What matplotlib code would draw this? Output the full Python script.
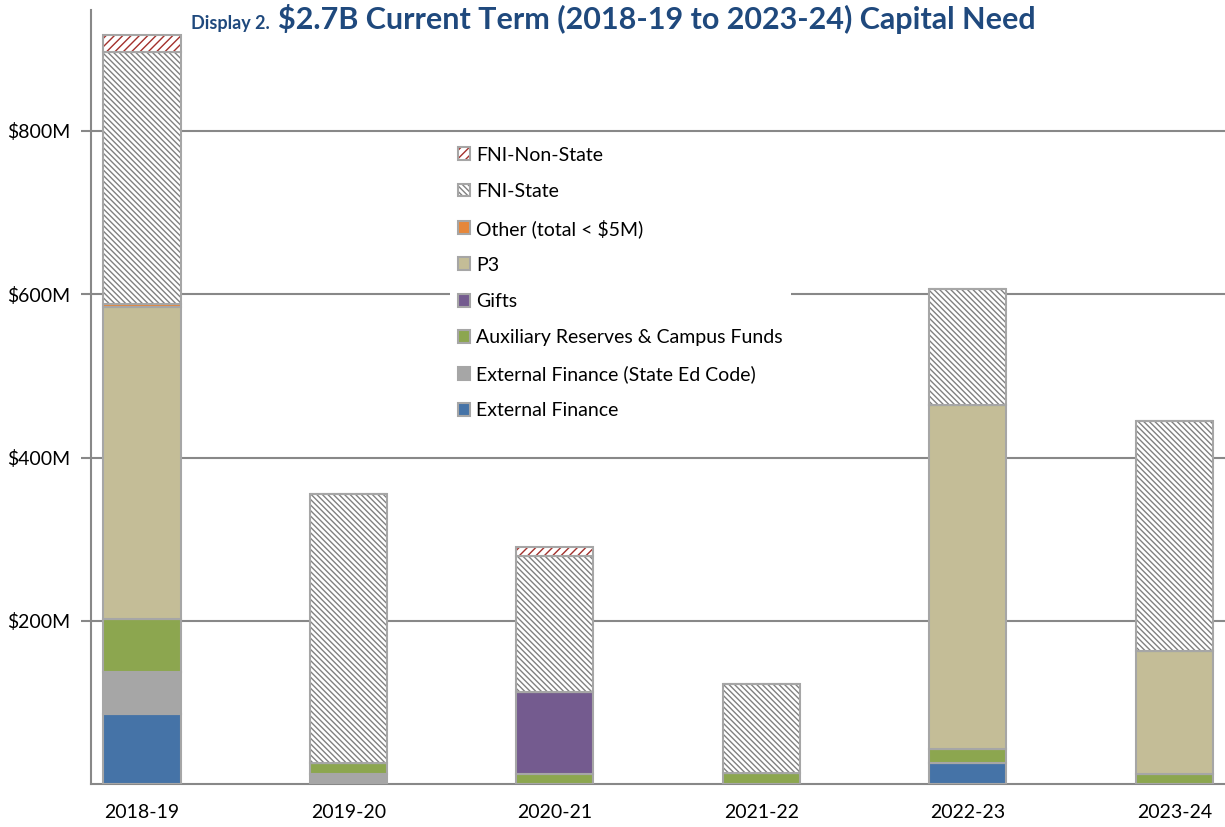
import matplotlib
matplotlib.use('Agg')
import matplotlib.pyplot as plt
import matplotlib.colors as mcolors
import numpy as np

plt.rcParams['font.family'] = ['Lato', 'DejaVu Sans']
plt.rcParams['hatch.linewidth'] = 1.0

anos = ['2018-19', '2019-20', '2020-21', '2021-22', '2022-23', '2023-24']

# valores em milhões de dólares
external_finance = [86, 0, 0, 0, 26, 0]
external_state_ed = [52, 12, 0, 0, 0, 0]
auxiliary = [64, 14, 13, 14, 17, 13]
gifts = [0, 0, 100, 0, 0, 0]
p3 = [382, 0, 0, 0, 421, 150]
other = [4, 0, 0, 0, 0, 0]
fni_state = [309, 330, 166, 109, 143, 282]
fni_non_state = [21, 0, 12, 0, 0, 0]

series = [
    ('External Finance', external_finance, '#4573A7', None, None),
    ('External Finance (State Ed Code)', external_state_ed, '#A6A6A6', None, None),
    ('Auxiliary Reserves & Campus Funds', auxiliary, '#8CA64F', None, None),
    ('Gifts', gifts, '#745B8F', None, None),
    ('P3', p3, '#C4BD97', None, None),
    ('Other (total < $5M)', other, '#E6873A', None, None),
    ('FNI-State', fni_state, 'white', '\\' * 6, '#808080'),
    ('FNI-Non-State', fni_non_state, 'white', '////', '#A3302C'),
]

fig = plt.figure(figsize=(12.25, 8.27), dpi=100)
ax = fig.add_axes([91 / 1225, 1 - 784.3 / 827, 1 - 91 / 1225, (784.3 - 10) / 827])

x = np.arange(len(anos))
largura = 0.373
base = np.zeros(len(anos))
handles = []
for nome, valores, cor, hatch, cor_hatch in series:
    valores = np.array(valores, dtype=float)
    barras = ax.bar(x, valores, largura, bottom=base, color=cor, edgecolor='#A6A6A6',
                    linewidth=1.5, hatch=hatch, label=nome, zorder=3)
    if cor_hatch is not None:
        for p in barras:
            p._hatch_color = mcolors.to_rgba(cor_hatch)
    handles.append(barras)
    base += valores

ax.set_xlim(-0.247, 5.245)
ax.set_ylim(0, 948)
ax.set_yticks([200, 400, 600, 800])
ax.set_yticklabels(['$200M', '$400M', '$600M', '$800M'])
ax.set_xticks(x)
ax.set_xticklabels(anos)
ax.tick_params(axis='y', length=7, width=1.5, color='#888888', pad=8, labelsize=14)
ax.tick_params(axis='x', length=0, pad=14, labelsize=14)
ax.grid(axis='y', color='#888888', linewidth=1.5, zorder=0)
ax.set_axisbelow(True)
for lado in ['top', 'right']:
    ax.spines[lado].set_visible(False)
for lado in ['left', 'bottom']:
    ax.spines[lado].set_color('#888888')
    ax.spines[lado].set_linewidth(1.5)

leg = ax.legend(handles[::-1], [s[0] for s in series][::-1], loc='upper left',
                bbox_to_anchor=(450 / 1225, 1 - 139 / 827), bbox_transform=fig.transFigure,
                fontsize=14, frameon=True, fancybox=False, framealpha=1, edgecolor='none',
                facecolor='white', handlelength=0.65, handleheight=0.65, handletextpad=0.3,
                labelspacing=0.98, borderpad=0.4, borderaxespad=0)
leg.set_zorder(5)

cor_titulo = '#1F497D'
fig.text(270 / 1225, 1 - 29 / 827, 'Display 2.', ha='right', va='baseline',
         fontsize=13, fontweight='bold', color=cor_titulo)
fig.text(278 / 1225, 1 - 29 / 827, '$2.7B Current Term (2018-19 to 2023-24) Capital Need',
         ha='left', va='baseline', fontsize=22, fontweight='bold', color=cor_titulo)

fig.savefig('out.png', dpi=100)
